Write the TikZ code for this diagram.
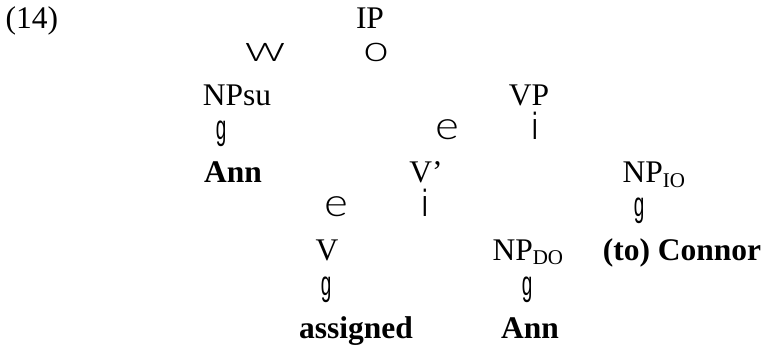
\documentclass[tikz,border=0pt]{standalone}
\usepackage{fontspec}
\usepackage{graphicx}
\setmainfont{Liberation Serif}
\IfFontExistsTF{Lato Light}{\newfontfamily\brfont{Lato Light}}{%
  \IfFontExistsTF{Open Sans Light}{\newfontfamily\brfont{Open Sans Light}}{%
    \newfontfamily\brfont{Liberation Sans}}}
\newfontfamily\brstemfont{Liberation Sans}
\tikzset{
  lbl/.style={anchor=base, inner sep=0pt, font=\fontsize{12}{14}\selectfont},
  wrd/.style={lbl, font=\fontsize{12}{14}\selectfont\bfseries},
  brch/.style={anchor=base, inner sep=0pt, font=\fontsize{12}{14}\selectfont\brfont},
  brstem/.style={anchor=base, inner sep=0pt, font=\fontsize{12}{14}\selectfont\brstemfont},
}
\begin{document}
\begin{tikzpicture}[x=0.381pt, y=-0.381pt]
\useasboundingbox (0,0) rectangle (765,347);
%example number and root
\node[lbl, anchor=base west] (num) at (5,29) {(14)};
\node[lbl] (ip) at (370,29) {IP};
%branches under IP
\node[brch] (ipl) at (265,62) {\scalebox{1.7}[1.15]{w}};
\node[brch] (ipr) at (376,62) {\scalebox{1.45}[1.15]{o}};
%
\node[lbl] (npsu) at (237,106) {NPsu};
\node[lbl] (vp) at (529,106) {VP};
\node[brstem] (npsub) at (221,140) {\scalebox{0.6}[1.1]{g}};
\node[brch] (vpl) at (447,140) {\scalebox{1.45}[1.25]{e}};
\node[brstem] (vpr) at (535,140) {\scalebox{0.8}[1.2]{i}};
%
\node[wrd] (ann) at (233,183) {Ann};
\node[lbl] (vbar) at (426,183) {V'};
\node[lbl, anchor=base west] (npio) at (622,183) {NP\textsubscript{IO}};
\node[brch] (vbarl) at (336,217) {\scalebox{1.45}[1.25]{e}};
\node[brstem] (vbarr) at (425,217) {\scalebox{0.8}[1.2]{i}};
\node[brstem] (npiob) at (639,217) {\scalebox{0.6}[1.1]{g}};
%
\node[lbl] (v) at (327,260) {V};
\node[lbl, anchor=base west] (npdo) at (492,260) {NP\textsubscript{DO}};
\node[wrd] (connor) at (682,260) {(to) Connor};
\node[brstem] (vb) at (326,295) {\scalebox{0.6}[1.1]{g}};
\node[brstem] (npdob) at (527,295) {\scalebox{0.6}[1.1]{g}};
%
\node[wrd] (assigned) at (356,338) {assigned};
\node[wrd] (anndo) at (530,338) {Ann};
\end{tikzpicture}
\end{document}
